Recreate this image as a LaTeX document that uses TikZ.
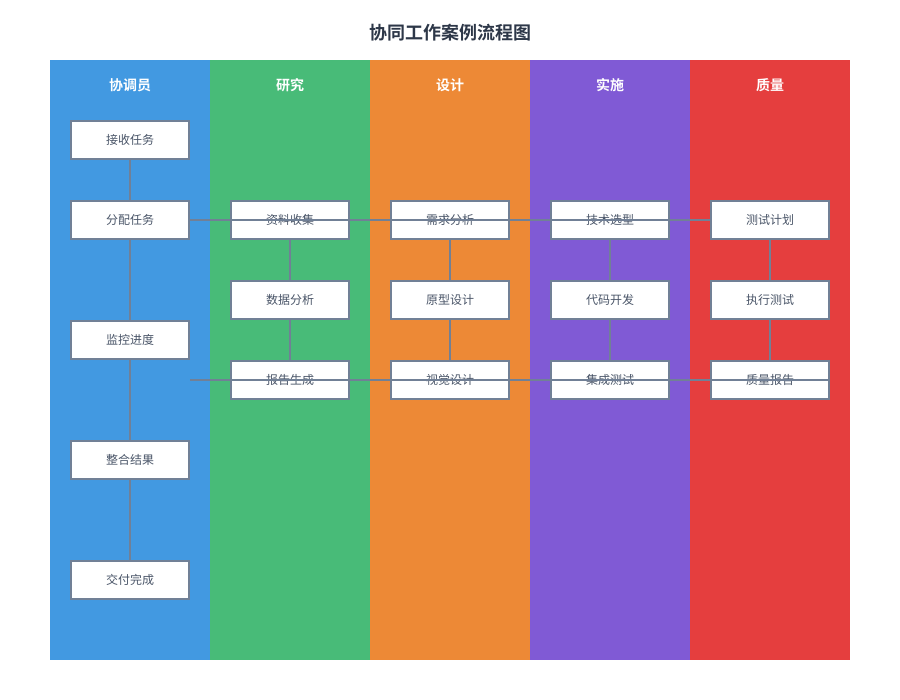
\documentclass[tikz,border=0pt]{standalone}
\usepackage{fontspec}
\setmainfont{Noto Sans CJK SC}
\newfontfamily\cjkbold{Noto Sans CJK SC Bold}
\definecolor{laneA}{HTML}{4299E1}
\definecolor{laneB}{HTML}{48BB78}
\definecolor{laneC}{HTML}{ED8936}
\definecolor{laneD}{HTML}{805AD5}
\definecolor{laneE}{HTML}{E53E3E}
\definecolor{edgec}{HTML}{718096}
\definecolor{txtc}{HTML}{4A5568}
\definecolor{titlec}{HTML}{2D3748}
\tikzset{
  taskbox/.style={draw=edgec, line width=2pt, fill=white, minimum width=118pt, minimum height=38pt, inner sep=0pt, font=\fontsize{12}{14}\selectfont, text=txtc},
  lanehead/.style={font=\cjkbold\fontsize{14}{16}\selectfont, text=white},
  conn/.style={draw=edgec, line width=2pt}
}
\begin{document}
\begin{tikzpicture}[x=1pt,y=-1pt]
\useasboundingbox (0,0) rectangle (900,700);
\fill[white] (0,0) rectangle (900,700);
\node[font=\cjkbold\fontsize{18}{20}\selectfont, text=titlec] (title) at (450,33) {协同工作案例流程图};
\fill[laneA] (50,60) rectangle (210,660);
\fill[laneB] (210,60) rectangle (370,660);
\fill[laneC] (370,60) rectangle (530,660);
\fill[laneD] (530,60) rectangle (690,660);
\fill[laneE] (690,60) rectangle (850,660);
\node[lanehead] (hA) at (130,85) {协调员};
\node[lanehead] (hB) at (290,85) {研究};
\node[lanehead] (hC) at (450,85) {设计};
\node[lanehead] (hD) at (610,85) {实施};
\node[lanehead] (hE) at (770,85) {质量};
% coordinator
\node[taskbox] (a1) at (130,140) {接收任务};
\node[taskbox] (a2) at (130,220) {分配任务};
\node[taskbox] (a3) at (130,340) {监控进度};
\node[taskbox] (a4) at (130,460) {整合结果};
\node[taskbox] (a5) at (130,580) {交付完成};
% research
\node[taskbox] (b1) at (290,220) {资料收集};
\node[taskbox] (b2) at (290,300) {数据分析};
\node[taskbox] (b3) at (290,380) {报告生成};
% design
\node[taskbox] (c1) at (450,220) {需求分析};
\node[taskbox] (c2) at (450,300) {原型设计};
\node[taskbox] (c3) at (450,380) {视觉设计};
% implementation
\node[taskbox] (d1) at (610,220) {技术选型};
\node[taskbox] (d2) at (610,300) {代码开发};
\node[taskbox] (d3) at (610,380) {集成测试};
% quality
\node[taskbox] (e1) at (770,220) {测试计划};
\node[taskbox] (e2) at (770,300) {执行测试};
\node[taskbox] (e3) at (770,380) {质量报告};
\coordinate (merge) at (190,380);
% connectors
\draw[conn] (a1) -- (a2);
\draw[conn] (a2) -- (a3);
\draw[conn] (a3) -- (a4);
\draw[conn] (a4) -- (a5);
\draw[conn] (b1) -- (b2);
\draw[conn] (b2) -- (b3);
\draw[conn] (c1) -- (c2);
\draw[conn] (c2) -- (c3);
\draw[conn] (d1) -- (d2);
\draw[conn] (d2) -- (d3);
\draw[conn] (e1) -- (e2);
\draw[conn] (e2) -- (e3);
\draw[conn] (a2.east) -- (e1.west);
\draw[conn] (merge) -- (e3.east);
\end{tikzpicture}
\end{document}
